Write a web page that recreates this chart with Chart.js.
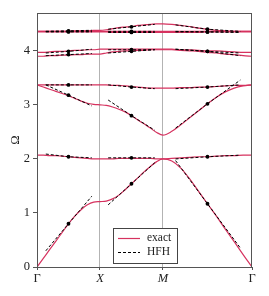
<!DOCTYPE html>
<html>
<head>
<meta charset="utf-8">
<script src="https://cdn.jsdelivr.net/npm/chart.js@4.4.1/dist/chart.umd.min.js"></script>
<style>
  html, body { margin: 0; background: #fff; }
  #wrap { width: 269px; height: 296px; }
</style>
</head>
<body>
<div id="wrap"><canvas id="bandChart"></canvas></div>
<script>
// === DATA ===
// path coordinate along Γ -> X -> M -> Γ
const kTicks = [0, 1, 2, 3.414];
const kLabels = ['Γ', 'X', 'M', 'Γ'];
const kPath = [0, 0.1, 0.2, 0.3, 0.4, 0.5, 0.6, 0.7, 0.8, 0.9, 1.0,
               1.1, 1.2, 1.3, 1.4, 1.5, 1.6, 1.7, 1.8, 1.9, 2.0,
               2.141, 2.283, 2.424, 2.566, 2.707, 2.849, 2.990, 3.131, 3.273, 3.414];
const yTicks = [0, 1, 2, 3, 4];

// exact dispersion curves (Ω), one per branch
const band1 = [0, 0.16, 0.32, 0.48, 0.64, 0.80, 0.94, 1.06, 1.15, 1.20, 1.21,
               1.22, 1.26, 1.33, 1.43, 1.54, 1.65, 1.76, 1.86, 1.95, 2.00,
               1.96, 1.83, 1.63, 1.40, 1.17, 0.94, 0.70, 0.47, 0.23, 0.00];
const band2 = [2.07, 2.07, 2.06, 2.06, 2.05, 2.04, 2.03, 2.02, 2.01, 2.00, 2.00,
               2.00, 2.00, 2.01, 2.01, 2.01, 2.01, 2.01, 2.01, 2.00, 2.00,
               2.01, 2.02, 2.03, 2.04, 2.04, 2.05, 2.06, 2.06, 2.07, 2.07];
const band3 = [3.37, 3.33, 3.29, 3.25, 3.21, 3.17, 3.12, 3.07, 3.03, 3.01, 3.00,
               2.99, 2.96, 2.92, 2.87, 2.80, 2.72, 2.65, 2.57, 2.49, 2.44,
               2.51, 2.63, 2.76, 2.89, 3.02, 3.14, 3.24, 3.31, 3.35, 3.37];
const band4 = [3.37, 3.37, 3.37, 3.37, 3.37, 3.37, 3.37, 3.37, 3.37, 3.37, 3.37,
               3.37, 3.36, 3.36, 3.35, 3.34, 3.33, 3.32, 3.31, 3.31, 3.31,
               3.31, 3.32, 3.32, 3.33, 3.33, 3.34, 3.35, 3.36, 3.36, 3.37];
const band5 = [3.90, 3.90, 3.91, 3.91, 3.92, 3.92, 3.93, 3.93, 3.94, 3.94, 3.94,
               3.96, 3.98, 3.99, 4.00, 4.00, 4.01, 4.01, 4.02, 4.02, 4.02,
               4.02, 4.01, 4.00, 3.99, 3.97, 3.96, 3.94, 3.93, 3.91, 3.90];
const band6 = [3.97, 3.97, 3.98, 3.99, 3.99, 4.00, 4.01, 4.01, 4.02, 4.02, 4.03,
               4.03, 4.03, 4.03, 4.03, 4.03, 4.03, 4.03, 4.03, 4.03, 4.03,
               4.03, 4.02, 4.02, 4.01, 4.00, 4.00, 3.99, 3.98, 3.97, 3.97];
const band7 = [4.35, 4.35, 4.35, 4.35, 4.35, 4.35, 4.35, 4.35, 4.35, 4.35, 4.35,
               4.35, 4.34, 4.34, 4.34, 4.34, 4.34, 4.34, 4.34, 4.34, 4.34,
               4.34, 4.34, 4.34, 4.34, 4.35, 4.35, 4.35, 4.35, 4.35, 4.35];
const band8 = [4.36, 4.36, 4.36, 4.36, 4.36, 4.36, 4.36, 4.36, 4.36, 4.36, 4.36,
               4.36, 4.36, 4.36, 4.36, 4.36, 4.36, 4.36, 4.36, 4.36, 4.36,
               4.36, 4.36, 4.36, 4.36, 4.36, 4.36, 4.36, 4.36, 4.36, 4.36];
const band9 = [4.36, 4.36, 4.36, 4.36, 4.36, 4.36, 4.37, 4.37, 4.37, 4.38, 4.38,
               4.39, 4.41, 4.43, 4.44, 4.45, 4.47, 4.48, 4.49, 4.50, 4.50,
               4.49, 4.47, 4.45, 4.42, 4.40, 4.38, 4.37, 4.36, 4.36, 4.36];
const exactBands = [band1, band2, band3, band4, band5, band6, band7, band8, band9];

// HFH asymptotics: x of start / expansion point / end on each leg
const hfhGX = [0.14, 0.5, 0.87];
const hfhXM = [1.13, 1.5, 1.87];
const hfhMG = [2.2, 2.707, 3.23];
// Ω at those x, per branch: [Γ-X, X-M, M-Γ]
const hfh1 = [[0.30, 0.80, 1.31], [1.15, 1.54, 1.93], [1.97, 1.17, 0.35]];
const hfh2 = [[2.09, 2.04, 2.02], [2.02, 2.02, 2.02], [2.00, 2.04, 2.07]];
const hfh3 = [[3.37, 3.18, 2.98], [3.09, 2.80, 2.53], [2.57, 3.02, 3.46]];
const hfh4 = [[3.37, 3.37, 3.37], [3.37, 3.33, 3.30], [3.30, 3.33, 3.37]];
const hfh5 = [[3.91, 3.93, 3.95], [3.96, 3.99, 4.02], [4.03, 3.99, 3.91]];
const hfh6 = [[3.96, 3.99, 4.03], [4.02, 4.02, 4.02], [4.03, 3.99, 3.96]];
const hfh7 = [[4.35, 4.35, 4.35], [4.34, 4.34, 4.34], [4.35, 4.35, 4.35]];
const hfh8 = [[4.36, 4.36, 4.36], [4.36, 4.36, 4.36], [4.36, 4.35, 4.34]];
const hfh9 = [[4.36, 4.37, 4.38], [4.40, 4.445, 4.49], [4.48, 4.40, 4.36]];
const hfhBands = [hfh1, hfh2, hfh3, hfh4, hfh5, hfh6, hfh7, hfh8, hfh9];

// === STYLE ===
const SERIF = '"Liberation Serif", "DejaVu Serif", serif';
const RED = '#d6325f';
const FRAME = '#555';

// === DATASETS ===
const datasets = [];
const legs = [hfhGX, hfhXM, hfhMG];
hfhBands.forEach(b => {
    b.forEach((ys, j) => {
        datasets.push({
            data: ys.map((y, i) => ({ x: legs[j][i], y: y })),
            borderColor: '#000',
            borderWidth: 1,
            borderDash: [3, 2],
            pointRadius: [0, 1.9, 0],
            pointBackgroundColor: '#000',
            pointBorderWidth: 0,
            order: 1
        });
    });
});
exactBands.forEach(b => {
    datasets.push({
        data: b.map((y, i) => ({ x: kPath[i], y: y })),
        borderColor: RED,
        borderWidth: 1.2,
        pointRadius: 0,
        cubicInterpolationMode: 'monotone',
        order: 2
    });
});

// frame on all four sides + legend box in the lower middle
const framePlugin = {
    id: 'frame',
    afterDatasetsDraw(chart) {
        const a = chart.chartArea, ctx = chart.ctx;
        ctx.save();
        ctx.strokeStyle = FRAME;
        ctx.lineWidth = 1;
        ctx.strokeRect(Math.round(a.left) + 0.5, Math.round(a.top) + 0.5,
                       Math.round(a.right - a.left) - 1, Math.round(a.bottom - a.top));
        ctx.restore();
    }
};

const legendPlugin = {
    id: 'boxLegend',
    afterDraw(chart) {
        const ctx = chart.ctx;
        const x0 = 113.5, y0 = 228.5, w = 64, h = 35;
        ctx.save();
        ctx.fillStyle = '#fff';
        ctx.fillRect(x0, y0, w, h);
        ctx.strokeStyle = '#444';
        ctx.lineWidth = 1;
        ctx.strokeRect(x0, y0, w, h);

        ctx.lineWidth = 1.2;
        ctx.strokeStyle = RED;
        ctx.beginPath(); ctx.moveTo(118, 238.5); ctx.lineTo(140, 238.5); ctx.stroke();
        ctx.strokeStyle = '#000';
        ctx.lineWidth = 1;
        ctx.setLineDash([3, 2]);
        ctx.beginPath(); ctx.moveTo(118, 252.5); ctx.lineTo(140, 252.5); ctx.stroke();
        ctx.setLineDash([]);

        ctx.fillStyle = '#222';
        ctx.font = '11.5px ' + SERIF;
        ctx.textBaseline = 'middle';
        ctx.fillText('exact', 147, 238);
        ctx.fillText('HFH', 147, 252);
        ctx.restore();
    }
};

new Chart(document.getElementById('bandChart'), {
    type: 'line',
    data: { datasets: datasets },
    plugins: [framePlugin, legendPlugin],
    options: {
        responsive: true,
        maintainAspectRatio: false,
        animation: false,
        layout: { padding: { left: 0, top: 13, right: 17, bottom: 0 } },
        plugins: { legend: { display: false }, tooltip: { enabled: false } },
        scales: {
            x: {
                type: 'linear',
                min: 0,
                max: 3.414,
                afterBuildTicks: s => { s.ticks = kTicks.map(v => ({ value: v })); },
                afterFit: s => { s.height = 29; },
                ticks: {
                    autoSkip: false,
                    maxRotation: 0,
                    padding: 1,
                    color: '#222',
                    font: c => ({ family: SERIF, size: 12.5, style: (c.index === 1 || c.index === 2) ? 'italic' : 'normal' }),
                    callback: (v, i) => kLabels[i]
                },
                grid: {
                    color: c => (c.tick && (c.tick.value === 1 || c.tick.value === 2)) ? '#b3b3b3' : 'rgba(0,0,0,0)',
                    tickColor: FRAME,
                    tickLength: 3
                },
                border: { color: FRAME }
            },
            y: {
                min: 0,
                max: 4.7,
                afterBuildTicks: s => { s.ticks = yTicks.map(v => ({ value: v })); },
                afterFit: s => { s.width = 37; },
                ticks: { padding: 3, color: '#222', font: { family: SERIF, size: 12.5 } },
                grid: { drawOnChartArea: false, tickColor: FRAME, tickLength: 4 },
                border: { color: FRAME },
                title: {
                    display: true,
                    text: 'Ω',
                    color: '#222',
                    font: { family: SERIF, size: 12.5 },
                    padding: { top: 8, bottom: 0 }
                }
            }
        }
    }
});
</script>
</body>
</html>
